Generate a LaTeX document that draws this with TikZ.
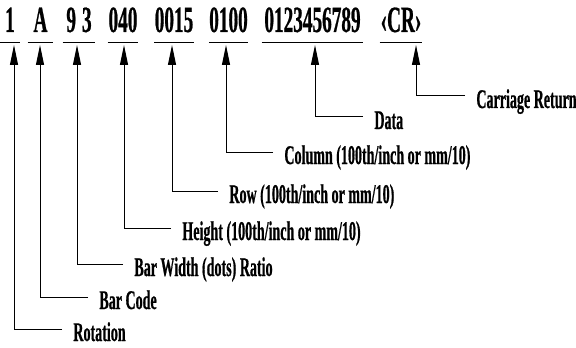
\documentclass[tikz,border=0pt]{standalone}
\usepackage{fontspec}
\setmainfont{Liberation Serif}[FakeStretch=0.52, FakeBold=0.6]
\usetikzlibrary{positioning,arrows.meta,calc}

\begin{document}
\begin{tikzpicture}[
    x=0.5pt, y=-0.5pt,
    field/.style={font=\fontsize{18.5}{20}\selectfont\bfseries, anchor=base, inner xsep=0pt, inner ysep=5pt, text depth=0pt},
    desc/.style={font=\fontsize{13.5}{15}\selectfont\bfseries, anchor=west, inner xsep=5.5pt, inner ysep=0pt, text height=12pt, text depth=0pt},
    underline/.style={line width=0.5pt},
    pointer/.style={-{Triangle[length=10pt,width=4pt]}, line width=0.5pt}
]
\useasboundingbox (0,0) rectangle (576,347);

% Command fields
\node[field, minimum width=10pt]   (rot) at (10,32)    {1};
\node[field, minimum width=12.5pt] (bc)  at (40.5,32)  {A};
\node[field, minimum width=16pt]   (bw)  at (79,32)    {9\hspace{3pt}3};
\node[field, minimum width=15pt]   (ht)  at (123,32)   {040};
\node[field, minimum width=19pt]   (row) at (174,32)   {0015};
\node[field, minimum width=18.5pt] (col) at (228.5,32) {0100};
\node[field, minimum width=50.5pt] (dat) at (312.5,32) {0123456789};
\node[field, minimum width=21pt]   (cr)  at (401,32)   {‹CR›};

% Underlines
\foreach \f in {rot,bc,bw,ht,row,col,dat,cr}
    \draw[underline] (\f.south west) -- (\f.south east);

% Arrow tips
\coordinate (rotT) at (14,45);
\coordinate (bcT)  at (40,45);
\coordinate (bwT)  at (77,45);
\coordinate (htT)  at (124,45);
\coordinate (rowT) at (172,45);
\coordinate (colT) at (226,45);
\coordinate (datT) at (315,45);
\coordinate (crT)  at (416,45);

% Descriptions
\node[desc] (rotL) at (62,329)  {Rotation};
\node[desc] (bcL)  at (88,297)  {Bar Code};
\node[desc] (bwL)  at (123,264) {Bar Width (dots) Ratio};
\node[desc] (htL)  at (171,228) {Height (100th/inch or mm/10)};
\node[desc] (rowL) at (218,191) {Row (100th/inch or mm/10)};
\node[desc] (colL) at (273,152) {Column (100th/inch or mm/10)};
\node[desc] (datL) at (363,117) {Data};
\node[desc] (crL)  at (465,96)  {Carriage Return};

% Connectors
\foreach \f in {rot,bc,bw,ht,row,col,dat,cr}
    \draw[pointer] (\f L.west) -| (\f T);

\end{tikzpicture}
\end{document}
